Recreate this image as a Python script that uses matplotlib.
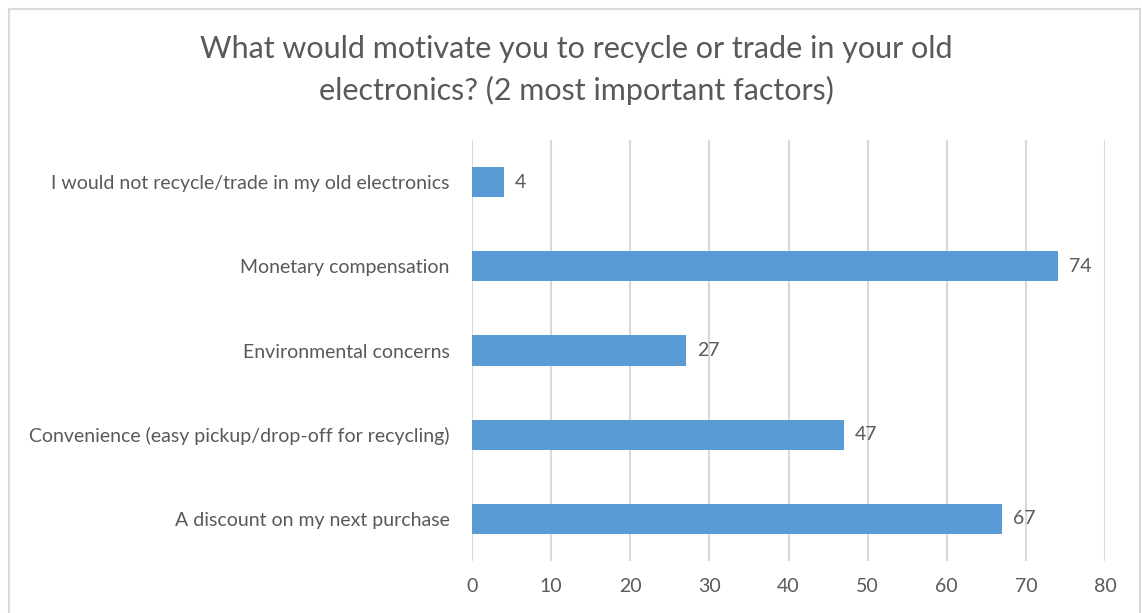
import matplotlib.pyplot as plt
from matplotlib.patches import Rectangle

plt.rcParams['font.family'] = ['Lato', 'DejaVu Sans']

categories = [
    "A discount on my next purchase",
    "Convenience (easy pickup/drop-off for recycling)",
    "Environmental concerns",
    "Monetary compensation",
    "I would not recycle/trade in my old electronics",
]
values = [67, 47, 27, 74, 4]
x_ticks = [0, 10, 20, 30, 40, 50, 60, 70, 80]

title = "What would motivate you to recycle or trade in your old\nelectronics? (2 most important factors)"

bar_color = "#5B9BD5"
text_color = "#595959"
grid_color = "#D9D9D9"

fig = plt.figure(figsize=(11.42, 6.13), dpi=100)
fig.patch.set_facecolor("white")

# chart frame
fig.patches.append(Rectangle((9 / 1142, -0.1), (1140 - 9) / 1142, 1.1 - 9 / 613,
                             transform=fig.transFigure, fill=False,
                             edgecolor=grid_color, linewidth=1.5))

ax = fig.add_axes([472 / 1142, 1 - 561 / 613, (1105 - 472) / 1142, (561 - 140) / 613])

ypos = list(range(len(categories)))
bars = ax.barh(ypos, values, height=0.36, color=bar_color, zorder=3)
for y, v in zip(ypos, values):
    ax.text(v + 1.4, y, str(v), va="center", ha="left", fontsize=14, color=text_color)

ax.set_xlim(0, 80)
ax.set_ylim(-0.5, len(categories) - 0.5)
ax.set_xticks(x_ticks)
ax.set_yticks(ypos)
ax.set_yticklabels(categories)
ax.tick_params(axis="both", length=0, labelsize=14, labelcolor=text_color)
ax.tick_params(axis="x", pad=12)
ax.tick_params(axis="y", pad=16)
ax.xaxis.grid(True, color=grid_color, linewidth=1.5, zorder=0)
for s in ax.spines.values():
    s.set_visible(False)

fig.text(576 / 1142, 1 - 70 / 613, title, ha="center", va="center",
         fontsize=22, color=text_color, linespacing=1.5)

fig.savefig("out.png", dpi=100)
